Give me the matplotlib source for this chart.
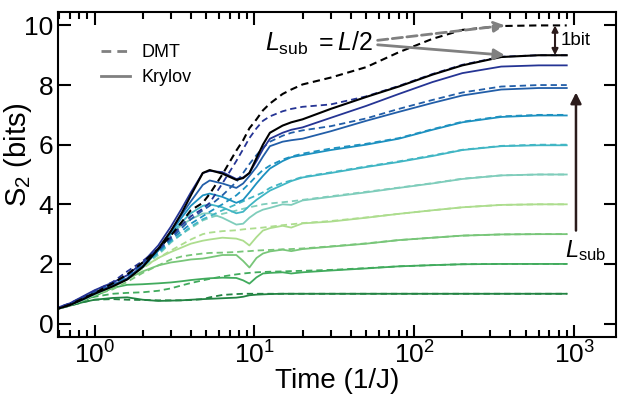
import matplotlib
matplotlib.use('Agg')
import matplotlib.pyplot as plt

plt.rcParams['font.family'] = ['Liberation Sans', 'DejaVu Sans']
plt.rcParams['mathtext.fontset'] = 'custom'
plt.rcParams['mathtext.rm'] = 'Liberation Sans'
plt.rcParams['mathtext.it'] = 'Liberation Sans:italic'

# time grid (1/J)
t = [0.55, 0.7, 0.85, 1.0, 1.3, 1.6, 2.0, 2.5, 3.0, 3.5, 4.0, 4.75, 5.25, 6.3, 7.7, 8.5,
     9.3, 10.3, 11.3, 12.5, 15, 17, 20, 30, 50, 80, 130, 200, 350, 600, 900]

# Krylov (solid) S2 for L_sub = 1..10
krylov_1 = [0.45, 0.6, 0.72, 0.8, 0.86, 0.88, 0.8, 0.76, 0.77, 0.78, 0.8, 0.82, 0.83, 0.85, 0.87, 0.9,
            0.95, 0.97, 0.98, 0.99, 1.0, 1.0, 1.0, 1.0, 1.0, 1.0, 1.0, 1.0, 1.0, 1.0, 1.0]
krylov_2 = [0.45, 0.62, 0.78, 0.92, 1.2, 1.3, 1.32, 1.35, 1.38, 1.42, 1.46, 1.5, 1.52, 1.54, 1.53, 1.45,
            1.34, 1.55, 1.68, 1.7, 1.72, 1.68, 1.72, 1.78, 1.85, 1.92, 1.96, 1.99, 2.0, 2.0, 2.0]
krylov_3 = [0.45, 0.62, 0.8, 0.96, 1.22, 1.5, 1.75, 1.95, 2.05, 2.1, 2.15, 2.18, 2.22, 2.3, 2.3, 2.1,
            1.88, 2.2, 2.35, 2.42, 2.48, 2.43, 2.5, 2.58, 2.68, 2.8, 2.88, 2.95, 2.99, 3.0, 3.0]
krylov_4 = [0.45, 0.62, 0.8, 0.97, 1.24, 1.5, 1.88, 2.2, 2.4, 2.55, 2.68, 2.78, 2.82, 2.88, 2.85, 2.78,
            2.62, 2.9, 3.12, 3.2, 3.28, 3.22, 3.36, 3.42, 3.55, 3.68, 3.8, 3.9, 3.98, 4.0, 4.0]
krylov_5 = [0.45, 0.62, 0.8, 0.98, 1.25, 1.5, 1.9, 2.45, 3.0, 3.3, 3.5, 3.69, 3.7, 3.55, 3.32, 3.35,
            3.55, 3.72, 3.82, 3.88, 4.0, 3.98, 4.13, 4.25, 4.4, 4.55, 4.7, 4.85, 4.97, 5.0, 5.0]
krylov_6 = [0.46, 0.63, 0.82, 1.0, 1.26, 1.5, 1.9, 2.45, 3.0, 3.4, 3.7, 3.95, 4.0, 3.9, 3.7, 3.75,
            3.95, 4.15, 4.3, 4.46, 4.65, 4.78, 4.9, 5.05, 5.25, 5.42, 5.62, 5.82, 5.95, 5.98, 5.98]
krylov_7 = [0.46, 0.64, 0.83, 1.02, 1.28, 1.5, 1.9, 2.45, 3.05, 3.55, 3.95, 4.3, 4.36, 4.25, 4.05, 4.15,
            4.4, 4.7, 4.95, 5.2, 5.45, 5.58, 5.65, 5.82, 6.0, 6.2, 6.5, 6.75, 6.93, 6.98, 6.98]
krylov_8 = [0.47, 0.66, 0.86, 1.05, 1.3, 1.52, 1.95, 2.5, 3.1, 3.65, 4.1, 4.65, 4.8, 4.7, 4.55, 4.7,
            4.95, 5.25, 5.6, 5.95, 6.1, 6.15, 6.2, 6.45, 6.8, 7.1, 7.4, 7.65, 7.85, 7.9, 7.9]
krylov_9 = [0.48, 0.68, 0.92, 1.12, 1.38, 1.62, 2.05, 2.62, 3.25, 3.85, 4.4, 5.05, 5.12, 5.08, 4.85, 4.9,
            5.05, 5.45, 5.85, 6.2, 6.4, 6.5, 6.58, 6.9, 7.3, 7.7, 8.1, 8.4, 8.62, 8.66, 8.66]
krylov_10 = [0.45, 0.62, 0.82, 1.0, 1.25, 1.48, 1.9, 2.5, 3.1, 3.7, 4.3, 5.05, 5.15, 5.03, 4.82, 4.88,
             5.05, 5.55, 6.0, 6.4, 6.64, 6.75, 6.85, 7.2, 7.6, 7.95, 8.35, 8.66, 8.94, 9.0, 9.0]

# DMT (dashed) S2 for L_sub = 1..10
dmt_1 = [0.45, 0.6, 0.72, 0.8, 0.82, 0.8, 0.79, 0.78, 0.78, 0.78, 0.79, 0.82, 0.88, 0.96, 0.99, 1.0,
         1.0, 1.0, 1.0, 1.0, 1.0, 1.0, 1.0, 1.0, 1.0, 1.0, 1.0, 1.0, 1.0, 1.0, 1.0]
dmt_2 = [0.45, 0.62, 0.78, 0.9, 1.0, 1.03, 1.05, 1.1, 1.18, 1.28, 1.36, 1.45, 1.5, 1.58, 1.65, 1.68,
         1.7, 1.72, 1.73, 1.74, 1.75, 1.76, 1.77, 1.8, 1.86, 1.92, 1.96, 1.99, 2.0, 2.0, 2.0]
dmt_3 = [0.45, 0.62, 0.8, 0.95, 1.15, 1.4, 1.7, 1.95, 2.15, 2.25, 2.3, 2.35, 2.37, 2.38, 2.4, 2.42,
         2.43, 2.45, 2.46, 2.47, 2.49, 2.5, 2.52, 2.59, 2.69, 2.8, 2.88, 2.95, 2.99, 3.0, 3.0]
dmt_4 = [0.45, 0.62, 0.8, 0.97, 1.25, 1.52, 1.85, 2.2, 2.45, 2.65, 2.82, 3.0, 3.05, 3.1, 3.13, 3.16,
         3.18, 3.2, 3.22, 3.25, 3.3, 3.33, 3.37, 3.44, 3.56, 3.68, 3.8, 3.9, 3.98, 4.0, 4.0]
dmt_5 = [0.45, 0.62, 0.8, 0.98, 1.28, 1.55, 1.92, 2.3, 2.72, 3.0, 3.2, 3.46, 3.55, 3.68, 3.79, 3.85,
         3.9, 3.95, 4.0, 4.03, 4.07, 4.1, 4.15, 4.27, 4.42, 4.56, 4.71, 4.86, 4.97, 5.0, 5.0]
dmt_6 = [0.46, 0.63, 0.82, 1.0, 1.3, 1.6, 1.95, 2.35, 2.75, 3.0, 3.25, 3.5, 3.6, 3.8, 4.0, 4.1,
         4.2, 4.3, 4.4, 4.55, 4.72, 4.8, 4.92, 5.07, 5.27, 5.44, 5.64, 5.83, 5.96, 6.0, 6.0]
dmt_7 = [0.46, 0.64, 0.83, 1.02, 1.32, 1.62, 1.98, 2.4, 2.8, 3.1, 3.35, 3.6, 3.75, 4.0, 4.3, 4.5,
         4.7, 4.95, 5.15, 5.3, 5.5, 5.6, 5.7, 5.87, 6.03, 6.22, 6.52, 6.77, 6.95, 7.0, 7.0]
dmt_8 = [0.47, 0.66, 0.86, 1.05, 1.34, 1.65, 2.02, 2.45, 2.85, 3.2, 3.5, 3.8, 3.95, 4.3, 4.75, 5.05,
         5.35, 5.65, 5.9, 6.1, 6.3, 6.4, 6.48, 6.62, 6.88, 7.2, 7.5, 7.75, 7.95, 8.0, 8.0]
dmt_9 = [0.48, 0.68, 0.9, 1.1, 1.4, 1.75, 2.1, 2.5, 2.9, 3.3, 3.6, 3.85, 4.05, 4.7, 5.45, 5.85,
         6.22, 6.55, 6.8, 6.95, 7.12, 7.2, 7.27, 7.35, 7.62, 7.97, 8.37, 8.68, 8.95, 9.0, 9.0]
dmt_10 = [0.45, 0.63, 0.85, 1.02, 1.35, 1.65, 2.05, 2.5, 2.95, 3.4, 3.8, 4.05, 4.35, 5.0, 5.8, 6.15,
          6.55, 6.85, 7.15, 7.38, 7.7, 7.85, 8.02, 8.25, 8.6, 9.1, 9.55, 9.85, 9.98, 10.0, 10.0]

colors = ['#238443', '#41ab5d', '#78c679', '#addd8e', '#7fcdbb',
          '#41b6c4', '#1d91c0', '#225ea8', '#253494', 'black']

krylov = [krylov_1, krylov_2, krylov_3, krylov_4, krylov_5,
          krylov_6, krylov_7, krylov_8, krylov_9, krylov_10]
dmt = [dmt_1, dmt_2, dmt_3, dmt_4, dmt_5, dmt_6, dmt_7, dmt_8, dmt_9, dmt_10]

fig = plt.figure(figsize=(6.18, 4.0), dpi=100)
ax = fig.add_axes([58 / 618, 63 / 400, 558 / 618, 325 / 400])

for i in range(10):
    lw = 1.5 if i == 9 else 1.3
    ax.plot(t, dmt[i], color=colors[i], lw=lw, dashes=(3.5, 2.2))
    ax.plot(t, krylov[i], color=colors[i], lw=lw)

ax.set_xscale('log')
ax.set_xlim(0.59, 1830)
ax.set_ylim(-0.45, 10.45)
ax.set_yticks([0, 2, 4, 6, 8, 10])

ax.tick_params(which='both', direction='in', top=True, right=True, labelsize=19, width=1.5)
ax.tick_params(which='major', length=9)
ax.tick_params(which='minor', length=5)
for s in ax.spines.values():
    s.set_linewidth(1.5)

ax.set_xlabel('Time (1/J)', fontsize=20, labelpad=-1)
ax.set_ylabel('S$_2$ (bits)', fontsize=21)
ax.yaxis.set_label_coords(-0.043, 0.56)

# legend
ax.plot([], [], color='gray', lw=2, dashes=(3.5, 2.2), label='DMT')
ax.plot([], [], color='gray', lw=2, label='Krylov')
ax.legend(loc='upper left', bbox_to_anchor=(0.055, 0.94), frameon=False, fontsize=13,
          handlelength=1.6, handletextpad=0.6, labelspacing=0.45, borderpad=0.2)

# annotations
ax.text(11.6, 9.4, r'$L_{\rm sub}$ $= L/2$', fontsize=18, va='center', ha='left')
ax.annotate('', xy=(369, 10.0), xytext=(59, 9.5),
            arrowprops=dict(arrowstyle='-|>', color='gray', lw=2, ls='--',
                            mutation_scale=16, shrinkA=0, shrinkB=0))
ax.annotate('', xy=(369, 9.0), xytext=(59, 9.35),
            arrowprops=dict(arrowstyle='-|>', color='gray', lw=2,
                            mutation_scale=16, shrinkA=0, shrinkB=0))
ax.annotate('', xy=(760, 10.0), xytext=(760, 9.0),
            arrowprops=dict(arrowstyle='<|-|>', color='#2b1b1b', lw=1.5,
                            mutation_scale=9, shrinkA=0, shrinkB=0))
ax.text(830, 9.48, '1bit', fontsize=13.5, va='center', ha='left')
ax.annotate('', xy=(1028, 7.75), xytext=(1028, 3.12),
            arrowprops=dict(arrowstyle='-|>', color='#2b1b1b', lw=1.8,
                            mutation_scale=16, shrinkA=0, shrinkB=0))
ax.text(1188, 2.45, r'$L_{\rm sub}$', fontsize=17, va='center', ha='center')

fig.savefig('out.png', dpi=100)
